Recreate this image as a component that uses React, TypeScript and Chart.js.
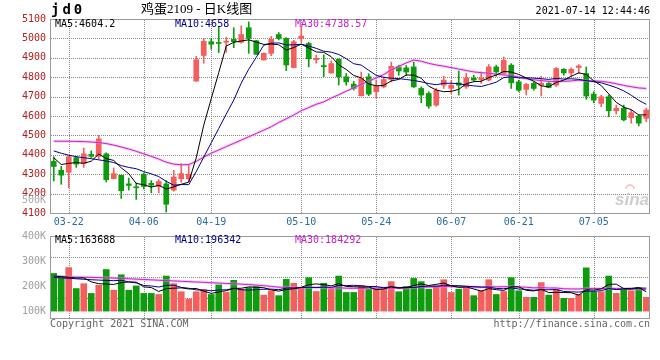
import React, { useEffect, useRef } from 'react';
import { Chart, registerables } from 'chart.js';

Chart.register(...registerables);

// ---------- data ----------
const dates = [
  '03-18', '03-19', '03-22', '03-23', '03-24', '03-25', '03-26', '03-29', '03-30', '03-31',
  '04-01', '04-02', '04-06', '04-07', '04-08', '04-09', '04-12', '04-13', '04-14', '04-15',
  '04-16', '04-19', '04-20', '04-21', '04-22', '04-23', '04-26', '04-27', '04-28', '04-29',
  '04-30', '05-06', '05-07', '05-10', '05-11', '05-12', '05-13', '05-14', '05-17', '05-18',
  '05-19', '05-20', '05-21', '05-24', '05-25', '05-26', '05-27', '05-28', '05-31', '06-01',
  '06-02', '06-03', '06-04', '06-07', '06-08', '06-09', '06-10', '06-11', '06-15', '06-16',
  '06-17', '06-18', '06-21', '06-22', '06-23', '06-24', '06-25', '06-28', '06-29', '06-30',
  '07-01', '07-02', '07-05', '07-06', '07-07', '07-08', '07-09', '07-12', '07-13', '07-14',
];
const shownDates = ['03-22', '04-06', '04-19', '05-10', '05-24', '06-07', '06-21', '07-05'];

const open = [
  4366, 4320, 4310, 4385, 4355, 4402, 4392, 4405, 4277, 4294,
  4250, 4235, 4300, 4253, 4237, 4250, 4218, 4277, 4277, 4780,
  4912, 4983, 4978, 4980, 4995, 4980, 5055, 4988, 4889, 4923,
  5020, 5000, 4850, 5000, 4974, 4890, 4860, 4822, 4892, 4802,
  4764, 4704, 4802, 4725, 4750, 4788, 4853, 4848, 4853, 4742,
  4716, 4656, 4759, 4742, 4771, 4750, 4796, 4788, 4785, 4853,
  4819, 4862, 4776, 4737, 4768, 4759, 4768, 4759, 4841, 4822,
  4850, 4819, 4713, 4665, 4699, 4627, 4640, 4591, 4600, 4588,
];
const high = [
  4390, 4340, 4395, 4392, 4435, 4420, 4500, 4410, 4332, 4296,
  4280, 4255, 4306, 4267, 4272, 4267, 4320, 4355, 4350, 4908,
  5000, 5000, 5060, 5005, 5055, 5065, 5085, 4990, 4925, 5010,
  5030, 5004, 4990, 5058, 4980, 4914, 4915, 4885, 4895, 4819,
  4778, 4827, 4818, 4785, 4802, 4878, 4862, 4860, 4878, 4750,
  4725, 4742, 4805, 4783, 4832, 4820, 4810, 4827, 4865, 4862,
  4904, 4870, 4785, 4768, 4776, 4805, 4776, 4850, 4845, 4848,
  4865, 4853, 4725, 4708, 4708, 4656, 4656, 4631, 4605, 4640,
];
const low = [
  4265, 4248, 4230, 4335, 4335, 4386, 4378, 4260, 4276, 4175,
  4218, 4170, 4224, 4204, 4204, 4105, 4212, 4258, 4262, 4778,
  4872, 4944, 4927, 4928, 4952, 4975, 4923, 4918, 4888, 4911,
  4992, 4834, 4848, 4981, 4853, 4872, 4803, 4820, 4760, 4759,
  4733, 4703, 4705, 4691, 4745, 4776, 4810, 4808, 4747, 4668,
  4640, 4650, 4742, 4716, 4708, 4742, 4778, 4768, 4780, 4805,
  4815, 4742, 4725, 4708, 4733, 4703, 4745, 4752, 4810, 4805,
  4819, 4686, 4668, 4648, 4596, 4610, 4575, 4563, 4549, 4571,
];
const close = [
  4340, 4295, 4390, 4352, 4405, 4392, 4482, 4272, 4303, 4215,
  4242, 4230, 4237, 4243, 4262, 4145, 4286, 4303, 4300, 4890,
  4985, 4970, 4974, 4986, 4983, 5020, 5000, 4918, 4923, 4995,
  5000, 4863, 4983, 5012, 4895, 4897, 4854, 4870, 4802, 4776,
  4742, 4793, 4713, 4754, 4788, 4856, 4832, 4827, 4750, 4708,
  4651, 4733, 4785, 4759, 4759, 4796, 4785, 4796, 4853, 4827,
  4887, 4771, 4733, 4763, 4742, 4768, 4747, 4845, 4822, 4841,
  4858, 4703, 4682, 4699, 4627, 4640, 4580, 4617, 4563, 4631,
];
const volume = [
  317000, 295000, 366000, 190000, 231000, 149000, 217000, 350000, 176000, 306000,
  176000, 212000, 149000, 149000, 140000, 295000, 231000, 163000, 102000, 163000,
  179000, 140000, 221000, 157000, 259000, 184000, 198000, 207000, 135000, 171000,
  130000, 267000, 234000, 198000, 281000, 165000, 234000, 184000, 295000, 157000,
  157000, 217000, 184000, 190000, 184000, 248000, 163000, 207000, 275000, 248000,
  184000, 212000, 264000, 157000, 184000, 198000, 130000, 171000, 264000, 140000,
  165000, 281000, 171000, 116000, 116000, 240000, 135000, 184000, 107000, 107000,
  140000, 364000, 163000, 163000, 295000, 149000, 179000, 171000, 198000, 116000,
];

// moving-average values before enough history is visible
const ma5Head = [4385, 4350, 4356, 4360];
const ma10Head = [4420, 4408, 4398, 4390, 4385, 4380, 4374, 4368, 4360];
const ma30Head = [
  4470, 4470, 4470, 4469, 4468, 4466, 4463, 4458, 4450, 4440,
  4430, 4418, 4405, 4392, 4378, 4362, 4352, 4348, 4350, 4366,
  4388, 4408, 4425, 4442, 4459, 4476, 4493, 4510, 4527,
];
const vma5Head = [296000, 290000, 284000, 278000];
const vma10Head = [282000, 279000, 276000, 272000, 268000, 264000, 261000, 258000, 256000];
const vma30Head = [
  289000, 288000, 287000, 286000, 285000, 284000, 282000, 280000, 278000, 275000,
  272000, 269000, 266000, 263000, 260000, 257000, 254000, 251000, 248000, 245000,
  242000, 239000, 236000, 233000, 230000, 227000, 223000, 219000, 214000,
];

const priceTicks = [4100, 5100, 100];
const volLabelTicks = [100000, 200000, 300000, 400000];
const priceLegend = ['MA5:4604.2', 'MA10:4658', 'MA30:4738.57'];
const volLegend = ['MA5:163688', 'MA10:196342', 'MA30:184292'];
const titleCode = 'jd0';
const titleName = '鸡蛋2109 - 日K线图';
const stamp = '2021-07-14 12:44:46';
const copyright = 'Copyright 2021 SINA.COM';
const siteUrl = 'http://finance.sina.com.cn';

// ---------- helpers ----------
function movingAvg(src: number[], n: number, head: number[]): number[] {
  return src.map((_, i) => {
    if (i < n - 1) return head[i];
    let s = 0;
    for (let k = i - n + 1; k <= i; k++) s += src[k];
    return s / n;
  });
}

const MONO = '"DejaVu Sans Mono", "Liberation Mono", monospace';
const RED = '#f35f5c';
const GREEN = '#0e9c0e';
const GRID = '#8a8a8a';
const FRAME = '#9a9a9a';
const C_MA5 = '#000000';
const C_MA10 = '#00008c';
const C_MA30 = '#c81ec8';
const C_GLOW = 'rgba(232,150,232,0.45)';
const VOL_MIN = -58000;
const VOL_MAX = 632000;

const candleColors = open.map((o, i) => (close[i] >= o ? RED : GREEN));
const shownIdx = shownDates.map((d) => dates.indexOf(d));

function xPix(chart: any, idx: number): number {
  const a = chart.chartArea;
  const xs = chart.scales && chart.scales.x;
  let p = xs ? Number(xs.getPixelForValue(idx)) : NaN;
  if (!isFinite(p)) p = a.left + ((idx + 0.5) * (a.right - a.left)) / dates.length;
  return Math.round(p);
}
function yPix(chart: any, v: number, min: number, max: number): number {
  const a = chart.chartArea;
  const ys = chart.scales && chart.scales.y;
  let p = ys ? Number(ys.getPixelForValue(v)) : NaN;
  if (!isFinite(p)) p = a.bottom - ((v - min) / (max - min)) * (a.bottom - a.top);
  return Math.round(p);
}

// dotted grid (1px on, 1px off) drawn beneath the marks
function drawGrid(chart: any, yVals: number[], min: number, max: number) {
  const ctx = chart.ctx as CanvasRenderingContext2D;
  const a = chart.chartArea;
  const top = Math.round(a.top);
  const bottom = Math.round(a.bottom);
  const left = Math.round(a.left);
  const right = Math.round(a.right);
  ctx.save();
  ctx.globalCompositeOperation = 'source-over';
  ctx.globalAlpha = 1;
  ctx.setLineDash([]);
  ctx.fillStyle = GRID;
  for (let k = 0; k < shownIdx.length; k++) {
    const px = xPix(chart, shownIdx[k]);
    for (let y = top + 1; y < bottom; y += 2) ctx.fillRect(px, y, 1, 1);
  }
  for (let k = 0; k < yVals.length; k++) {
    const py = yPix(chart, yVals[k], min, max);
    if (py <= top + 1 || py >= bottom - 1) continue;
    for (let x = left + 1; x < right; x += 2) ctx.fillRect(x, py, 1, 1);
  }
  ctx.restore();
}
function drawFrame(chart: any) {
  const ctx = chart.ctx as CanvasRenderingContext2D;
  const a = chart.chartArea;
  const top = Math.round(a.top);
  const bottom = Math.round(a.bottom);
  const left = Math.round(a.left);
  const right = Math.round(a.right);
  ctx.save();
  ctx.fillStyle = FRAME;
  ctx.fillRect(left, top, right - left, 1);
  ctx.fillRect(left, bottom, right - left, 1);
  ctx.fillRect(left, top, 1, bottom - top + 1);
  ctx.fillRect(right - 1, top, 1, bottom - top + 1);
  ctx.restore();
}

const filterDateTicks = (s: any) => {
  s.ticks = s.ticks.filter((t: any) => shownDates.includes(dates[t.value]));
};

function lineDs(label: string, data: number[], color: string, width: number, order: number, yAxisID = 'y') {
  return {
    type: 'line' as const,
    label,
    data,
    borderColor: color,
    backgroundColor: 'rgba(0,0,0,0)',
    borderWidth: width,
    pointRadius: 0,
    tension: 0,
    fill: false,
    order,
    yAxisID,
  };
}

export default function App() {
  const mainRef = useRef<HTMLCanvasElement>(null);
  const volRef = useRef<HTMLCanvasElement>(null);

  useEffect(() => {
    const ma5 = movingAvg(close, 5, ma5Head);
    const ma10 = movingAvg(close, 10, ma10Head);
    const ma30 = movingAvg(close, 30, ma30Head);
    const vma5 = movingAvg(volume, 5, vma5Head);
    const vma10 = movingAvg(volume, 10, vma10Head);
    const vma30 = movingAvg(volume, 30, vma30Head);

    const priceGridVals: number[] = [];
    for (let v = priceTicks[0]; v <= priceTicks[1]; v += priceTicks[2]) priceGridVals.push(v);
    const volGridVals = [1, 2, 3].map((k) => VOL_MIN + (k * (VOL_MAX - VOL_MIN)) / 4);

    const mainDeco = {
      id: 'mainDeco',
      beforeDatasetsDraw(chart: any) {
        drawGrid(chart, priceGridVals, priceTicks[0], priceTicks[1]);
      },
      afterDraw(chart: any) {
        drawFrame(chart);
        const ctx = chart.ctx as CanvasRenderingContext2D;
        const a = chart.chartArea;
        ctx.save();
        ctx.textBaseline = 'middle';
        ctx.fillStyle = '#000';
        ctx.font = `bold 14px ${MONO}`;
        (ctx as any).letterSpacing = '3px';
        ctx.textAlign = 'left';
        ctx.fillText(titleCode, a.left + 1, 10);
        (ctx as any).letterSpacing = '0px';
        ctx.font = '13px "Liberation Serif", "Noto Sans CJK SC", serif';
        ctx.fillText(titleName, 141, 10);
        ctx.font = `10px ${MONO}`;
        ctx.textAlign = 'right';
        ctx.fillText(stamp, a.right, 11.5);
        ctx.textAlign = 'left';
        const cols = [C_MA5, C_MA10, C_MA30];
        const xs = [a.left + 5, a.left + 125, a.left + 245];
        priceLegend.forEach((t, i) => {
          ctx.fillStyle = cols[i];
          ctx.fillText(t, xs[i], a.top + 5);
        });
        ctx.fillStyle = '#a8a8a8';
        ctx.textAlign = 'right';
        ctx.fillText('500K', a.left - 4, 200);
        ctx.fillStyle = 'rgba(190,190,190,0.75)';
        ctx.font = 'italic bold 17px "Liberation Sans", sans-serif';
        ctx.fillText('sina', a.right - 1, 200);
        ctx.strokeStyle = 'rgba(240,170,170,0.8)';
        ctx.lineWidth = 1.5;
        ctx.beginPath();
        ctx.arc(a.right - 20, 189, 4, Math.PI, 2 * Math.PI);
        ctx.stroke();
        ctx.restore();
      },
    };

    const volDeco = {
      id: 'volDeco',
      beforeDatasetsDraw(chart: any) {
        drawGrid(chart, volGridVals, VOL_MIN, VOL_MAX);
      },
      afterDraw(chart: any) {
        drawFrame(chart);
        const ctx = chart.ctx as CanvasRenderingContext2D;
        const a = chart.chartArea;
        ctx.save();
        ctx.textBaseline = 'middle';
        ctx.font = `10px ${MONO}`;
        const cols = [C_MA5, C_MA10, C_MA30];
        const xs = [a.left + 5, a.left + 125, a.left + 245];
        volLegend.forEach((t, i) => {
          ctx.fillStyle = cols[i];
          ctx.fillText(t, xs[i], a.top + 4);
        });
        ctx.fillStyle = '#666';
        ctx.textAlign = 'left';
        ctx.fillText(copyright, a.left, a.bottom + 6.5);
        ctx.textAlign = 'right';
        ctx.fillText(siteUrl, a.right, a.bottom + 6.5);
        ctx.restore();
      },
    };

    const main = new Chart(mainRef.current as HTMLCanvasElement, {
      type: 'bar',
      data: {
        labels: dates,
        datasets: [
          lineDs('MA5', ma5, C_MA5, 1, 0),
          lineDs('MA10', ma10, C_MA10, 1, 0),
          lineDs('MA30', ma30, C_MA30, 1, 0),
          lineDs('MA30 glow', ma30, C_GLOW, 3, 1),
          {
            type: 'bar',
            label: 'body',
            data: open.map((o, i) => [o, close[i]]) as any,
            backgroundColor: candleColors,
            barThickness: 5,
            minBarLength: 1,
            grouped: false,
            order: 2,
          },
          {
            type: 'bar',
            label: 'wick',
            data: low.map((l, i) => [l, high[i]]) as any,
            backgroundColor: candleColors,
            barThickness: 1,
            grouped: false,
            order: 3,
          },
        ] as any,
      },
      options: {
        animation: false,
        responsive: false,
        maintainAspectRatio: false,
        events: [],
        layout: { padding: { top: 19, right: 10, left: 0, bottom: 0 } },
        plugins: { legend: { display: false }, tooltip: { enabled: false } },
        scales: {
          x: {
            type: 'category',
            offset: true,
            grid: { display: false, offset: false, drawTicks: false },
            border: { display: false },
            ticks: {
              autoSkip: false,
              maxRotation: 0,
              minRotation: 0,
              padding: 3,
              color: '#2a6e9e',
              font: { family: MONO, size: 10 },
            },
            afterBuildTicks: filterDateTicks,
            afterFit: (s: any) => {
              s.height = 19;
            },
          },
          y: {
            min: priceTicks[0],
            max: priceTicks[1],
            ticks: {
              stepSize: priceTicks[2],
              color: '#b42020',
              padding: 4,
              font: { family: MONO, size: 10 },
              callback: (v: any) => String(v),
            },
            grid: { display: false, drawTicks: false },
            border: { display: false },
            afterFit: (s: any) => {
              s.width = 50;
            },
          },
        } as any,
      },
      plugins: [mainDeco],
    });

    const vol = new Chart(volRef.current as HTMLCanvasElement, {
      type: 'bar',
      data: {
        labels: dates,
        datasets: [
          lineDs('VMA5', vma5, C_MA5, 1, 0),
          lineDs('VMA10', vma10, C_MA10, 1, 0),
          lineDs('VMA30', vma30, C_MA30, 1, 0),
          lineDs('VMA30 glow', vma30, C_GLOW, 3, 1),
          {
            type: 'bar',
            label: 'volume',
            data: volume,
            backgroundColor: candleColors,
            barThickness: 6,
            grouped: false,
            order: 2,
            yAxisID: 'y',
          },
        ] as any,
      },
      options: {
        animation: false,
        responsive: false,
        maintainAspectRatio: false,
        events: [],
        layout: { padding: { top: 9, right: 10, left: 0, bottom: 42 } },
        plugins: { legend: { display: false }, tooltip: { enabled: false } },
        scales: {
          x: {
            type: 'category',
            offset: true,
            grid: { display: false, offset: false, drawTicks: false },
            border: { display: false },
            ticks: { display: false, autoSkip: false, maxRotation: 0 },
            afterBuildTicks: filterDateTicks,
            afterFit: (s: any) => {
              s.height = 0;
            },
          },
          yL: {
            position: 'left',
            min: 72550,
            max: 400000,
            grid: { display: false, drawTicks: false },
            border: { display: false },
            ticks: {
              color: '#a0a0a0',
              padding: 4,
              font: { family: MONO, size: 10 },
              callback: (v: any) => `${Math.round(Number(v) / 1000)}K`,
            },
            afterBuildTicks: (s: any) => {
              s.ticks = volLabelTicks.map((v) => ({ value: v }));
            },
            afterFit: (s: any) => {
              s.width = 50;
            },
          },
          y: {
            position: 'left',
            min: VOL_MIN,
            max: VOL_MAX,
            grid: { display: false, drawTicks: false },
            border: { display: false },
            ticks: { display: false },
            afterFit: (s: any) => {
              s.width = 0;
            },
          },
        } as any,
      },
      plugins: [volDeco],
    });

    return () => {
      main.destroy();
      vol.destroy();
    };
  }, []);

  return (
    <div style={{ position: 'absolute', left: 0, top: 0, width: 660, height: 360, background: '#fff' }}>
      <canvas ref={mainRef} width={660} height={232} style={{ position: 'absolute', left: 0, top: 0 }} />
      <canvas ref={volRef} width={660} height={134} style={{ position: 'absolute', left: 0, top: 226 }} />
    </div>
  );
}
